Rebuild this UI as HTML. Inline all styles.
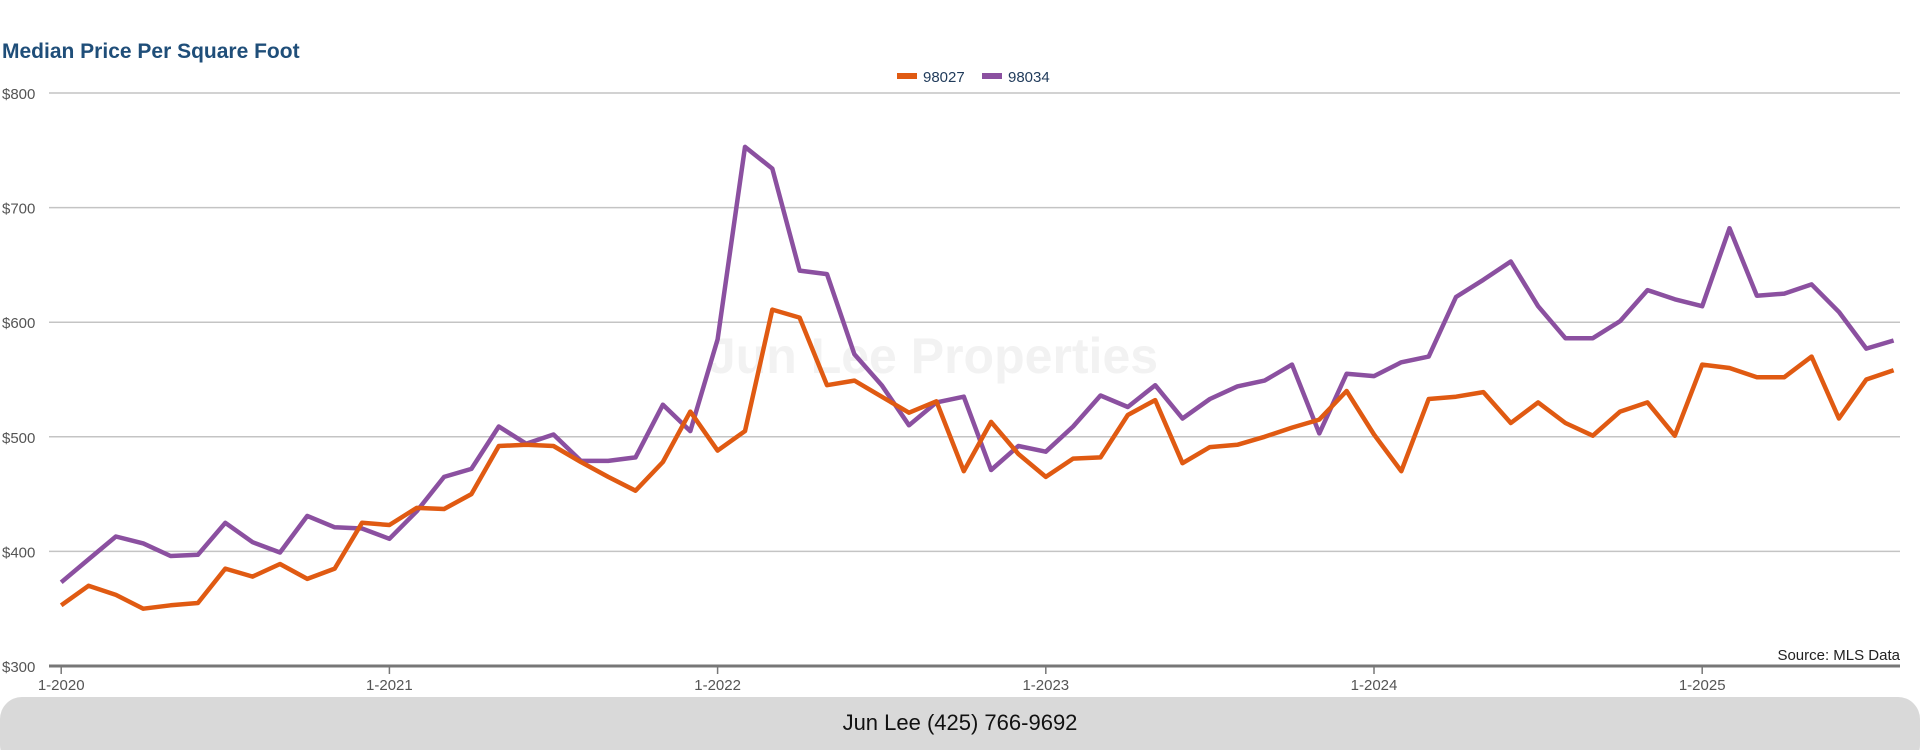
<!DOCTYPE html>
<html><head><meta charset="utf-8"><style>
body{margin:0;background:#fff;width:1920px;height:750px;overflow:hidden;font-family:"Liberation Sans",sans-serif}
</style></head><body>
<svg width="1920" height="750" xmlns="http://www.w3.org/2000/svg">
<text x="2" y="58" font-size="21" font-weight="bold" fill="#1f4e79">Median Price Per Square Foot</text>
<g>
<rect x="897" y="73" width="20" height="6" fill="#e05a12"/>
<text x="923" y="82" font-size="15" fill="#1f3a5a">98027</text>
<rect x="982" y="73" width="20" height="6" fill="#8b50a0"/>
<text x="1008" y="82" font-size="15" fill="#1f3a5a">98034</text>
</g>
<text x="933" y="373" font-size="50" font-weight="bold" fill="#f2f2f2" text-anchor="middle">Jun Lee Properties</text>
<g id="grid"></g><g id="axes"></g><g id="series"></g>
<text x="1900" y="660" font-size="15" fill="#222" text-anchor="end">Source: MLS Data</text>
<rect x="0" y="697" width="1920" height="70" rx="22" fill="#d9d9d9"/>
<text x="960" y="730" font-size="22" fill="#111" text-anchor="middle">Jun Lee (425) 766-9692</text>
</svg>
<script>
const months=[];for(let i=0;i<68;i++)months.push(i);
const s98027=[353,370,362,350,353,355,385,378,389,376,385,425,423,438,437,450,492,493,492,478,465,453,478,522,488,505,611,604,545,549,535,521,531,470,513,485,465,481,482,519,532,477,491,493,500,508,515,540,502,470,533,535,539,512,530,512,501,522,530,501,563,560,552,552,570,516,550,558];
const s98034=[373,393,413,407,396,397,425,408,399,431,421,420,411,435,465,472,509,494,502,479,479,482,528,505,585,753,734,645,642,572,545,510,530,535,471,492,487,509,536,526,545,516,533,544,549,563,503,555,553,565,570,622,637,653,614,586,586,601,628,620,614,682,623,625,633,609,577,584];
const yTicks=[300,400,500,600,700,800];
const xTickLabels=["1-2020","1-2021","1-2022","1-2023","1-2024","1-2025"];
const NS="http://www.w3.org/2000/svg";
const x=m=>61.2+m*(328.2/12);
const y=v=>666-(v-300)*1.146;
function mk(t,a,p){const e=document.createElementNS(NS,t);for(const k in a)e.setAttribute(k,a[k]);p.appendChild(e);return e;}
const grid=document.getElementById('grid'),axes=document.getElementById('axes'),ser=document.getElementById('series');
yTicks.forEach(v=>{
 if(v>300){const l=mk('line',{x1:49,x2:1900,y1:y(v),y2:y(v),stroke:'#c4c4c4','stroke-width':1.5},grid);
 
 }
 const t=mk('text',{x:2,y:y(v)+6,'font-size':15,fill:'#555'},axes);t.textContent='$'+v;
 
 
});
const ax=mk('line',{x1:49,x2:1900,y1:666,y2:666,stroke:'#777','stroke-width':3},axes);


xTickLabels.forEach((lab,i)=>{
 const xx=x(i*12);
 const tk=mk('line',{x1:xx,x2:xx,y1:666,y2:674,stroke:'#777','stroke-width':1.5},axes);
 
 
 const t=mk('text',{x:xx,y:690,'font-size':15,fill:'#555','text-anchor':'middle'},axes);t.textContent=lab;
 
 
});
function line(data,color,name){
 const d=data.map((v,i)=>(i?'L':'M')+x(months[i]).toFixed(1)+','+y(v).toFixed(1)).join(' ');
 const p=mk('path',{d:d,fill:'none',stroke:color,'stroke-width':4.5,'stroke-linejoin':'round'},ser);
 
 
}
line(s98034,'#8b50a0','line-98034');
line(s98027,'#e05a12','line-98027');
</script>
</body></html>
